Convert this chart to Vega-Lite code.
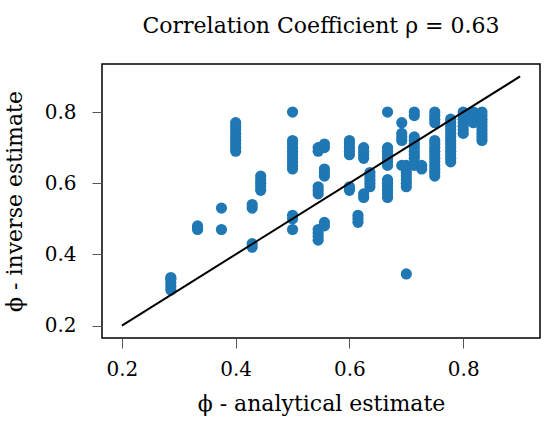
{
  "$schema": "https://vega.github.io/schema/vega-lite/v6.json",
  "autosize": "none",
  "padding": {"left": 102, "top": 64, "right": 10, "bottom": 91},
  "width": 438,
  "height": 274,
  "config": {
    "font": "DejaVu Serif",
    "view": {"stroke": "black", "strokeWidth": 1.5},
    "axis": {
      "grid": false,
      "domain": false,
      "tickColor": "#555555",
      "tickSize": 10,
      "tickWidth": 1,
      "labelFont": "DejaVu Serif",
      "labelFontSize": 20,
      "labelColor": "black",
      "titleFont": "DejaVu Serif",
      "titleFontSize": 22,
      "titleFontWeight": "normal",
      "titleColor": "black"
    }
  },
  "title": {
    "text": "Correlation Coefficient ρ = 0.63",
    "font": "DejaVu Serif",
    "fontSize": 22,
    "fontWeight": "normal",
    "color": "black",
    "anchor": "middle",
    "baseline": "alphabetic",
    "offset": 9
  },
  "datasets": {
    "points": [
      {"analytical": 0.286, "inverse": 0.30},
      {"analytical": 0.286, "inverse": 0.31},
      {"analytical": 0.286, "inverse": 0.32},
      {"analytical": 0.286, "inverse": 0.33},
      {"analytical": 0.286, "inverse": 0.335},
      {"analytical": 0.333, "inverse": 0.47},
      {"analytical": 0.333, "inverse": 0.475},
      {"analytical": 0.333, "inverse": 0.48},
      {"analytical": 0.375, "inverse": 0.53},
      {"analytical": 0.375, "inverse": 0.47},
      {"analytical": 0.4, "inverse": 0.69},
      {"analytical": 0.4, "inverse": 0.70},
      {"analytical": 0.4, "inverse": 0.71},
      {"analytical": 0.4, "inverse": 0.72},
      {"analytical": 0.4, "inverse": 0.73},
      {"analytical": 0.4, "inverse": 0.74},
      {"analytical": 0.4, "inverse": 0.75},
      {"analytical": 0.4, "inverse": 0.76},
      {"analytical": 0.4, "inverse": 0.77},
      {"analytical": 0.429, "inverse": 0.53},
      {"analytical": 0.429, "inverse": 0.54},
      {"analytical": 0.429, "inverse": 0.42},
      {"analytical": 0.429, "inverse": 0.43},
      {"analytical": 0.444, "inverse": 0.58},
      {"analytical": 0.444, "inverse": 0.59},
      {"analytical": 0.444, "inverse": 0.60},
      {"analytical": 0.444, "inverse": 0.61},
      {"analytical": 0.444, "inverse": 0.62},
      {"analytical": 0.5, "inverse": 0.80},
      {"analytical": 0.5, "inverse": 0.64},
      {"analytical": 0.5, "inverse": 0.65},
      {"analytical": 0.5, "inverse": 0.66},
      {"analytical": 0.5, "inverse": 0.67},
      {"analytical": 0.5, "inverse": 0.68},
      {"analytical": 0.5, "inverse": 0.69},
      {"analytical": 0.5, "inverse": 0.70},
      {"analytical": 0.5, "inverse": 0.71},
      {"analytical": 0.5, "inverse": 0.72},
      {"analytical": 0.5, "inverse": 0.50},
      {"analytical": 0.5, "inverse": 0.51},
      {"analytical": 0.5, "inverse": 0.47},
      {"analytical": 0.545, "inverse": 0.69},
      {"analytical": 0.545, "inverse": 0.70},
      {"analytical": 0.545, "inverse": 0.57},
      {"analytical": 0.545, "inverse": 0.58},
      {"analytical": 0.545, "inverse": 0.59},
      {"analytical": 0.545, "inverse": 0.44},
      {"analytical": 0.545, "inverse": 0.45},
      {"analytical": 0.545, "inverse": 0.46},
      {"analytical": 0.545, "inverse": 0.47},
      {"analytical": 0.556, "inverse": 0.70},
      {"analytical": 0.556, "inverse": 0.71},
      {"analytical": 0.556, "inverse": 0.62},
      {"analytical": 0.556, "inverse": 0.63},
      {"analytical": 0.556, "inverse": 0.64},
      {"analytical": 0.556, "inverse": 0.48},
      {"analytical": 0.556, "inverse": 0.49},
      {"analytical": 0.6, "inverse": 0.68},
      {"analytical": 0.6, "inverse": 0.69},
      {"analytical": 0.6, "inverse": 0.70},
      {"analytical": 0.6, "inverse": 0.71},
      {"analytical": 0.6, "inverse": 0.72},
      {"analytical": 0.6, "inverse": 0.58},
      {"analytical": 0.6, "inverse": 0.59},
      {"analytical": 0.615, "inverse": 0.49},
      {"analytical": 0.615, "inverse": 0.50},
      {"analytical": 0.615, "inverse": 0.51},
      {"analytical": 0.625, "inverse": 0.67},
      {"analytical": 0.625, "inverse": 0.68},
      {"analytical": 0.625, "inverse": 0.69},
      {"analytical": 0.625, "inverse": 0.70},
      {"analytical": 0.625, "inverse": 0.56},
      {"analytical": 0.625, "inverse": 0.57},
      {"analytical": 0.636, "inverse": 0.59},
      {"analytical": 0.636, "inverse": 0.60},
      {"analytical": 0.636, "inverse": 0.61},
      {"analytical": 0.636, "inverse": 0.62},
      {"analytical": 0.636, "inverse": 0.63},
      {"analytical": 0.667, "inverse": 0.80},
      {"analytical": 0.667, "inverse": 0.65},
      {"analytical": 0.667, "inverse": 0.66},
      {"analytical": 0.667, "inverse": 0.67},
      {"analytical": 0.667, "inverse": 0.68},
      {"analytical": 0.667, "inverse": 0.69},
      {"analytical": 0.667, "inverse": 0.70},
      {"analytical": 0.667, "inverse": 0.56},
      {"analytical": 0.667, "inverse": 0.57},
      {"analytical": 0.667, "inverse": 0.58},
      {"analytical": 0.667, "inverse": 0.59},
      {"analytical": 0.667, "inverse": 0.60},
      {"analytical": 0.667, "inverse": 0.61},
      {"analytical": 0.692, "inverse": 0.77},
      {"analytical": 0.692, "inverse": 0.72},
      {"analytical": 0.692, "inverse": 0.73},
      {"analytical": 0.692, "inverse": 0.74},
      {"analytical": 0.692, "inverse": 0.65},
      {"analytical": 0.7, "inverse": 0.345},
      {"analytical": 0.7, "inverse": 0.59},
      {"analytical": 0.7, "inverse": 0.60},
      {"analytical": 0.7, "inverse": 0.61},
      {"analytical": 0.7, "inverse": 0.62},
      {"analytical": 0.7, "inverse": 0.63},
      {"analytical": 0.7, "inverse": 0.64},
      {"analytical": 0.7, "inverse": 0.65},
      {"analytical": 0.714, "inverse": 0.80},
      {"analytical": 0.714, "inverse": 0.79},
      {"analytical": 0.714, "inverse": 0.67},
      {"analytical": 0.714, "inverse": 0.68},
      {"analytical": 0.714, "inverse": 0.69},
      {"analytical": 0.714, "inverse": 0.70},
      {"analytical": 0.714, "inverse": 0.71},
      {"analytical": 0.714, "inverse": 0.72},
      {"analytical": 0.714, "inverse": 0.73},
      {"analytical": 0.714, "inverse": 0.65},
      {"analytical": 0.727, "inverse": 0.64},
      {"analytical": 0.727, "inverse": 0.65},
      {"analytical": 0.75, "inverse": 0.80},
      {"analytical": 0.75, "inverse": 0.79},
      {"analytical": 0.75, "inverse": 0.78},
      {"analytical": 0.75, "inverse": 0.77},
      {"analytical": 0.75, "inverse": 0.62},
      {"analytical": 0.75, "inverse": 0.63},
      {"analytical": 0.75, "inverse": 0.64},
      {"analytical": 0.75, "inverse": 0.65},
      {"analytical": 0.75, "inverse": 0.66},
      {"analytical": 0.75, "inverse": 0.67},
      {"analytical": 0.75, "inverse": 0.68},
      {"analytical": 0.75, "inverse": 0.69},
      {"analytical": 0.75, "inverse": 0.70},
      {"analytical": 0.75, "inverse": 0.71},
      {"analytical": 0.75, "inverse": 0.72},
      {"analytical": 0.778, "inverse": 0.66},
      {"analytical": 0.778, "inverse": 0.67},
      {"analytical": 0.778, "inverse": 0.68},
      {"analytical": 0.778, "inverse": 0.69},
      {"analytical": 0.778, "inverse": 0.70},
      {"analytical": 0.778, "inverse": 0.71},
      {"analytical": 0.778, "inverse": 0.72},
      {"analytical": 0.778, "inverse": 0.73},
      {"analytical": 0.778, "inverse": 0.74},
      {"analytical": 0.778, "inverse": 0.75},
      {"analytical": 0.778, "inverse": 0.76},
      {"analytical": 0.778, "inverse": 0.77},
      {"analytical": 0.778, "inverse": 0.78},
      {"analytical": 0.8, "inverse": 0.74},
      {"analytical": 0.8, "inverse": 0.75},
      {"analytical": 0.8, "inverse": 0.76},
      {"analytical": 0.8, "inverse": 0.77},
      {"analytical": 0.8, "inverse": 0.78},
      {"analytical": 0.8, "inverse": 0.79},
      {"analytical": 0.8, "inverse": 0.80},
      {"analytical": 0.818, "inverse": 0.77},
      {"analytical": 0.818, "inverse": 0.78},
      {"analytical": 0.818, "inverse": 0.79},
      {"analytical": 0.818, "inverse": 0.80},
      {"analytical": 0.833, "inverse": 0.72},
      {"analytical": 0.833, "inverse": 0.73},
      {"analytical": 0.833, "inverse": 0.74},
      {"analytical": 0.833, "inverse": 0.75},
      {"analytical": 0.833, "inverse": 0.76},
      {"analytical": 0.833, "inverse": 0.77},
      {"analytical": 0.833, "inverse": 0.78},
      {"analytical": 0.833, "inverse": 0.79},
      {"analytical": 0.833, "inverse": 0.80}
    ],
    "identity": [
      {"analytical": 0.2, "inverse": 0.2},
      {"analytical": 0.9, "inverse": 0.9}
    ]
  },
  "encoding": {
    "x": {
      "field": "analytical",
      "type": "quantitative",
      "title": "ϕ - analytical estimate",
      "scale": {"domain": [0.165, 0.935], "nice": false, "zero": false},
      "axis": {"values": [0.2, 0.4, 0.6, 0.8], "format": ".1f", "labelPadding": 11, "titlePadding": 14}
    },
    "y": {
      "field": "inverse",
      "type": "quantitative",
      "title": "ϕ - inverse estimate",
      "scale": {"domain": [0.165, 0.935], "nice": false, "zero": false},
      "axis": {"values": [0.2, 0.4, 0.6, 0.8], "format": ".1f", "labelPadding": 16, "titlePadding": 18}
    }
  },
  "layer": [
    {
      "data": {"name": "points"},
      "mark": {"type": "circle", "color": "#1f77b4", "opacity": 1, "size": 125}
    },
    {
      "data": {"name": "identity"},
      "mark": {"type": "line", "color": "black", "strokeWidth": 2}
    }
  ]
}
